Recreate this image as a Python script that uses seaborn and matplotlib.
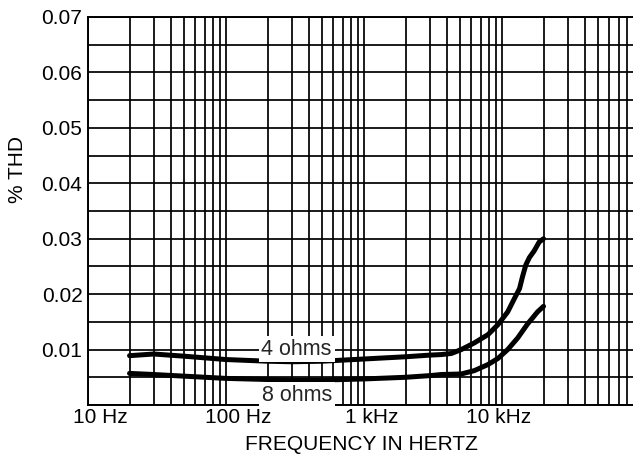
import numpy as np
import pandas as pd
import seaborn as sns
import matplotlib
matplotlib.use("Agg")
import matplotlib.pyplot as plt
from matplotlib.ticker import FixedLocator, MultipleLocator, LogLocator, NullFormatter
from matplotlib.transforms import ScaledTranslation

# ---- data ----
freq_4ohm = [20, 30, 50, 100, 200, 300, 500, 1000, 2000, 3000, 3640, 4300, 5070,
             6300, 7920, 9350, 11000, 12300, 13400, 14100, 14900, 15800, 17100, 18600, 20000]
thd_4ohm = [0.0089, 0.0092, 0.0088, 0.0082, 0.0079, 0.0078, 0.0079, 0.0083, 0.0087, 0.0090, 0.0091,
            0.0093, 0.0100, 0.0112, 0.0127, 0.0145, 0.0168, 0.0192, 0.0210, 0.0232, 0.0253,
            0.0266, 0.0278, 0.0294, 0.0300]

freq_8ohm = [20, 30, 50, 100, 200, 300, 500, 1000, 2000, 3000, 3640, 5070, 6300, 7920,
             9350, 11000, 13000, 15300, 18100, 20000]
thd_8ohm = [0.0057, 0.0055, 0.0052, 0.0048, 0.0046, 0.0045, 0.0045, 0.0047, 0.0050, 0.0053, 0.0055,
            0.0056, 0.0062, 0.0073, 0.0084, 0.0100, 0.0121, 0.0146, 0.0168, 0.0178]

y_ticks = [0.01, 0.02, 0.03, 0.04, 0.05, 0.06, 0.07]
y_tick_labels = ["0.01", "0.02", "0.03", "0.04", "0.05", "0.06", "0.07"]
x_ticks = [10, 100, 1000, 10000]
x_tick_labels = ["10 Hz", "100 Hz", "1 kHz", "10 kHz"]
curve_labels = ["4 ohms", "8 ohms"]
label_pos_x = [325, 325]
label_pos_y = [0.0101, 0.0017]

df = pd.concat([
    pd.DataFrame({"freq": freq_4ohm, "thd": thd_4ohm, "load": curve_labels[0]}),
    pd.DataFrame({"freq": freq_8ohm, "thd": thd_8ohm, "load": curve_labels[1]}),
])

sns.set_style("white")
plt.rcParams["font.family"] = ["Liberation Sans", "DejaVu Sans"]

fig = plt.figure(figsize=(6.33, 4.55), dpi=100)
ax = fig.add_axes([88 / 633, 1 - 405 / 455, 1 - 88 / 633, (405 - 17) / 455])

sns.lineplot(data=df, x="freq", y="thd", hue="load", palette=["black", "black"],
             linewidth=3.6, legend=False, ax=ax, sort=True, estimator=None,
             solid_capstyle="round", zorder=3)

ax.set_xscale("log")
ax.set_xlim(10, 89000)
ax.set_ylim(0, 0.07)

ax.xaxis.set_major_locator(FixedLocator(x_ticks))
ax.set_xticklabels(x_tick_labels)
ax.xaxis.set_minor_locator(LogLocator(base=10, subs=np.arange(2, 10)))
ax.xaxis.set_minor_formatter(NullFormatter())
ax.yaxis.set_major_locator(FixedLocator(y_ticks))
ax.set_yticklabels(y_tick_labels)
ax.yaxis.set_minor_locator(MultipleLocator(0.005))

ax.grid(which="both", color="black", linewidth=1.25)
ax.set_axisbelow(True)
ax.tick_params(which="both", length=0, labelsize=15, colors="black")
ax.tick_params(axis="x", pad=2)
ax.tick_params(axis="y", pad=4)

for sp in ["left", "bottom", "top"]:
    ax.spines[sp].set_visible(True)
    ax.spines[sp].set_color("black")
    ax.spines[sp].set_linewidth(1.4)
ax.spines["right"].set_visible(False)

offsets = [12, 12, 8, -3]
for lab, dx in zip(ax.get_xticklabels(), offsets):
    lab.set_transform(lab.get_transform() + ScaledTranslation(dx / 100, 0, fig.dpi_scale_trans))

ax.set_xlabel("FREQUENCY IN HERTZ", fontsize=15, color="black")
ax.set_ylabel("% THD", fontsize=15, color="black")
ax.xaxis.set_label_coords(0.502, -0.078)
ax.yaxis.set_label_coords(-0.112, 0.606)

for t, xx, yy in zip(curve_labels, label_pos_x, label_pos_y):
    ax.text(xx, yy, t, fontsize=15.5, ha="center", va="center", zorder=4,
            bbox=dict(facecolor="white", edgecolor="none", pad=2))

fig.savefig("out.png", dpi=100)
